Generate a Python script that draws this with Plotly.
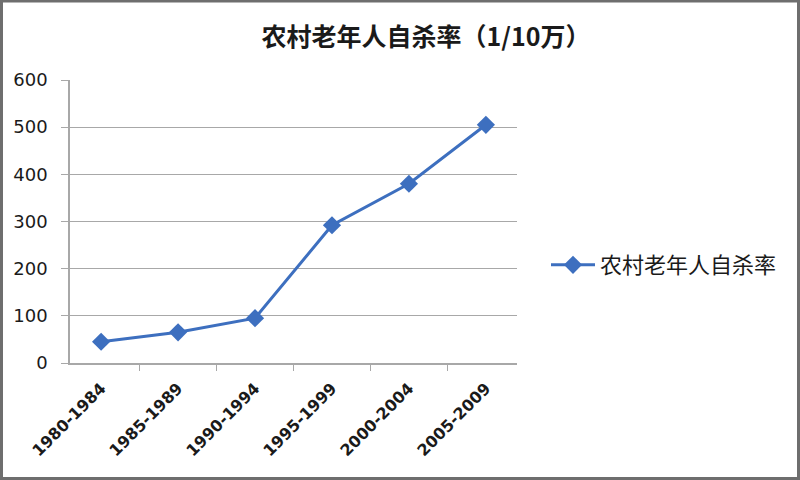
import plotly.graph_objects as go

periods = ["1980-1984", "1985-1989", "1990-1994", "1995-1999", "2000-2004", "2005-2009"]
rates = [45, 65, 95, 292, 380, 505]
series_name = "农村老年人自杀率"
title_text = "农村老年人自杀率（1/10万）"

blue = "#3d6fbf"
grid = "#a8a8a8"
cjk = "Noto Sans CJK SC"

fig = go.Figure(
    go.Scatter(
        x=periods,
        y=rates,
        name=series_name,
        mode="lines+markers",
        line=dict(color=blue, width=3),
        marker=dict(symbol="diamond", size=14, color=blue),
    )
)

W, H = 800, 480
L, R, T, B = 70, 283, 80, 117
pw, ph = W - L - R, H - T - B

fig.update_layout(
    width=W,
    height=H,
    margin=dict(l=L, r=R, t=T, b=B),
    paper_bgcolor="white",
    plot_bgcolor="white",
    showlegend=True,
    title=dict(
        text="<b>" + title_text + "</b>",
        x=426 / W,
        xanchor="center",
        y=1 - 37 / H,
        yanchor="middle",
        font=dict(family=cjk, size=25, color="#1a1a1a"),
    ),
    legend=dict(
        x=1 + (546 - (L + pw)) / pw,
        xanchor="left",
        y=1 - (265 - T) / ph,
        yanchor="middle",
        font=dict(family=cjk, size=22, color="#1a1a1a"),
        bgcolor="rgba(0,0,0,0)",
        itemwidth=44,
    ),
    font=dict(family="DejaVu Sans", color="#1a1a1a"),
)

fig.update_xaxes(
    type="category",
    tickangle=-45,
    tickson="boundaries",
    ticks="outside",
    ticklen=6,
    tickcolor=grid,
    showline=True,
    linecolor=grid,
    linewidth=1.5,
    showgrid=False,
    ticklabelstandoff=8,
    tickfont=dict(family="DejaVu Sans", size=16, weight="bold", color="#1a1a1a"),
)
fig.update_yaxes(
    range=[0, 600],
    dtick=100,
    ticks="outside",
    ticklen=7,
    tickcolor=grid,
    showline=True,
    linecolor=grid,
    linewidth=1.5,
    gridcolor=grid,
    gridwidth=1,
    zeroline=False,
    ticklabelstandoff=10,
    tickfont=dict(family="DejaVu Sans", size=18, color="#1a1a1a"),
)

# grey frame round the whole picture
fig.add_shape(
    type="rect",
    xref="paper",
    yref="paper",
    x0=-(L - 1.5) / pw,
    x1=1 + (R - 1.5) / pw,
    y0=-(B - 1.5) / ph,
    y1=1 + (T - 1) / ph,
    line=dict(color="#6e6e6e", width=3),
)

fig.write_html(
    "out.html",
    config={"displayModeBar": False},
    post_script="document.body.style.margin='0px';",
)
